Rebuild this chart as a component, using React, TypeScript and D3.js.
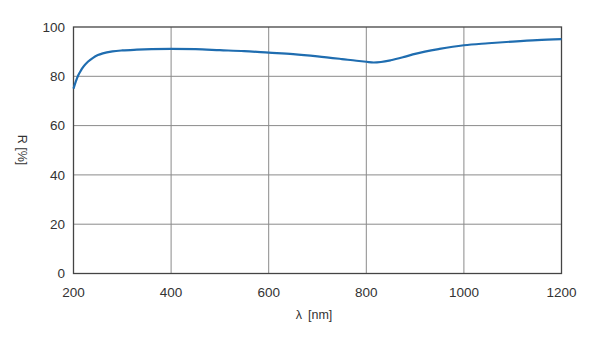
import React from "react";
import * as d3 from "d3";

const wavelengths = [200, 205, 210, 215, 220, 230, 240, 250, 260, 280, 300, 330, 360, 400, 450, 500, 550, 600, 650, 700, 750, 780, 800, 815, 830, 850, 880, 900, 950, 1000, 1050, 1100, 1150, 1200];
const reflectance = [75, 78, 80.5, 82.3, 83.8, 86, 87.5, 88.6, 89.3, 90.1, 90.5, 90.8, 91, 91.1, 91, 90.6, 90.2, 89.6, 89, 88.1, 87, 86.3, 85.9, 85.6, 85.8, 86.5, 88, 89.1, 91.1, 92.6, 93.4, 94.1, 94.7, 95.1];
const xTicks = [200, 400, 600, 800, 1000, 1200];
const yTicks = [0, 20, 40, 60, 80, 100];

export default function App() {
  const W = 600, H = 337;
  const m = { left: 73.5, right: 561.5, top: 27, bottom: 273.5 };
  const x = d3.scaleLinear().domain([200, 1200]).range([m.left, m.right]);
  const y = d3.scaleLinear().domain([0, 100]).range([m.bottom, m.top]);
  const data = wavelengths.map((w, i) => [w, reflectance[i]] as [number, number]);
  const line = d3.line<[number, number]>().x(d => x(d[0])).y(d => y(d[1])).curve(d3.curveMonotoneX);
  const font = "'Liberation Sans', Arial, sans-serif";
  return (
    <svg width={W} height={H} style={{ position: "absolute", left: 0, top: 0, background: "#fff" }} fontFamily={font}>
      {xTicks.slice(1, -1).map(t => (
        <line key={"gx" + t} x1={x(t)} x2={x(t)} y1={m.top} y2={m.bottom} stroke="#8a8a8a" strokeWidth={1} />
      ))}
      {yTicks.slice(1, -1).map(t => (
        <line key={"gy" + t} x1={m.left} x2={m.right} y1={y(t)} y2={y(t)} stroke="#8a8a8a" strokeWidth={1} />
      ))}
      <rect x={m.left} y={m.top} width={m.right - m.left} height={m.bottom - m.top} fill="none" stroke="#444" strokeWidth={1.3} />
      <path d={line(data) ?? ""} fill="none" stroke="#1f6db0" strokeWidth={2.2} />
      {yTicks.map(t => (
        <text key={"ty" + t} x={65} y={y(t)} dy="0.35em" textAnchor="end" fontSize={13.5} fill="#333">{t}</text>
      ))}
      {xTicks.map(t => (
        <text key={"tx" + t} x={x(t)} y={292} dy="0.35em" textAnchor="middle" fontSize={13.5} fill="#333">{t}</text>
      ))}
      <text x={314} y={315} dy="0.35em" textAnchor="middle" fontSize={12.5} fill="#333">
        <tspan>λ</tspan>
        <tspan dx={6}>[nm]</tspan>
      </text>
      <text transform="translate(22,150) rotate(90)" dy="0.35em" textAnchor="middle" fontSize={12.5} fill="#333">R [%]</text>
    </svg>
  );
}
